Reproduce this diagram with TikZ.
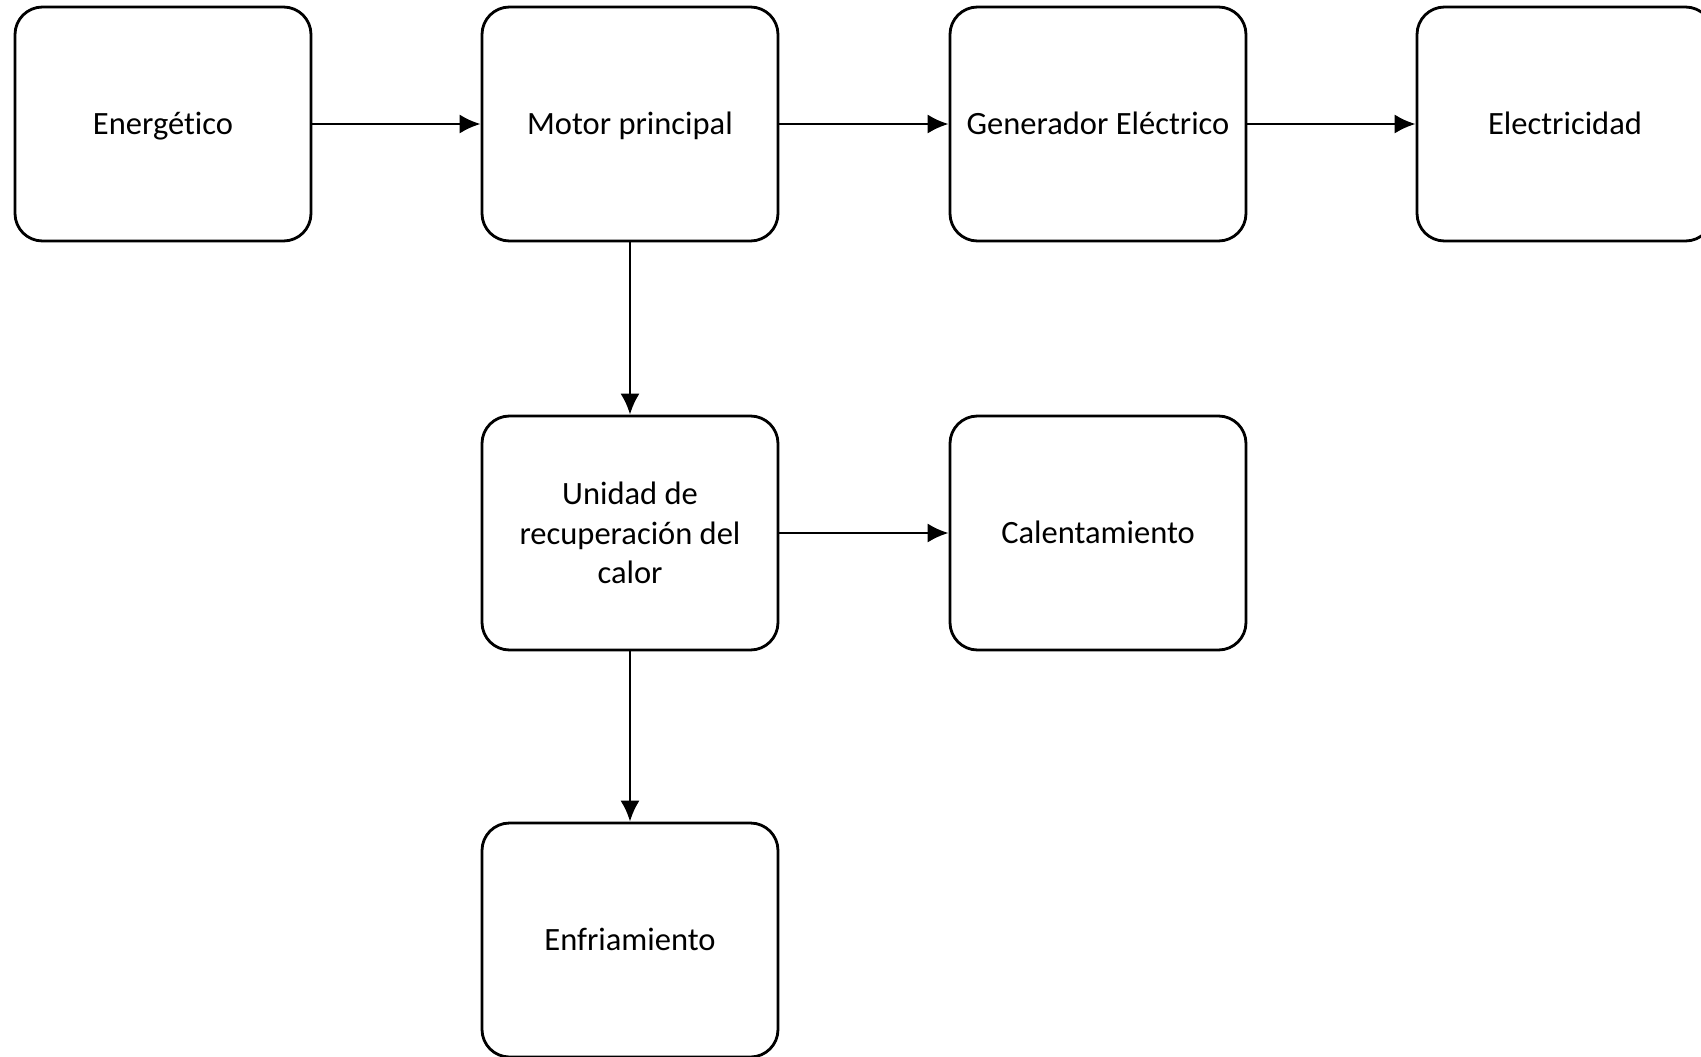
\documentclass[tikz,border=0pt]{standalone}
\usepackage{fontspec}
\setmainfont[Ligatures=NoCommon]{Carlito}
\usepackage{tikz}
\usetikzlibrary{arrows.meta}

\tikzset{
  blockbox/.style={draw,line width=1.6pt,rounded corners=0.55cm,
    minimum width=5.92cm,minimum height=4.68cm,align=center,
    font=\fontsize{18.5}{22.5}\selectfont},
  onebox/.style={blockbox,text height=15pt,text depth=2.6pt},
  flow/.style={line width=1.6pt,-{Latex[length=12pt,width=11pt]}}
}

\begin{document}
\begin{tikzpicture}
\useasboundingbox (0,0) rectangle (34.02,-21.12);
% fila superior
\node[onebox] (ener) at (3.26,-2.48) {Energético};
\node[onebox] (motor) at (12.6,-2.48) {Motor principal};
\node[onebox] (gen) at (21.96,-2.48) {Generador Eléctrico};
\node[onebox] (elec) at (31.3,-2.48) {Electricidad};
% recuperacion
\node[blockbox] (unidad) at (12.6,-10.66) {Unidad de\\recuperación del\\calor};
\node[onebox] (calen) at (21.96,-10.66) {Calentamiento};
\node[onebox] (enfr) at (12.6,-18.8) {Enfriamiento};
\draw[flow] (ener) -- (motor);
\draw[flow] (motor) -- (gen);
\draw[flow] (gen) -- (elec);
\draw[flow] (motor) -- (unidad);
\draw[flow] (unidad) -- (calen);
\draw[flow] (unidad) -- (enfr);
\end{tikzpicture}
\end{document}
